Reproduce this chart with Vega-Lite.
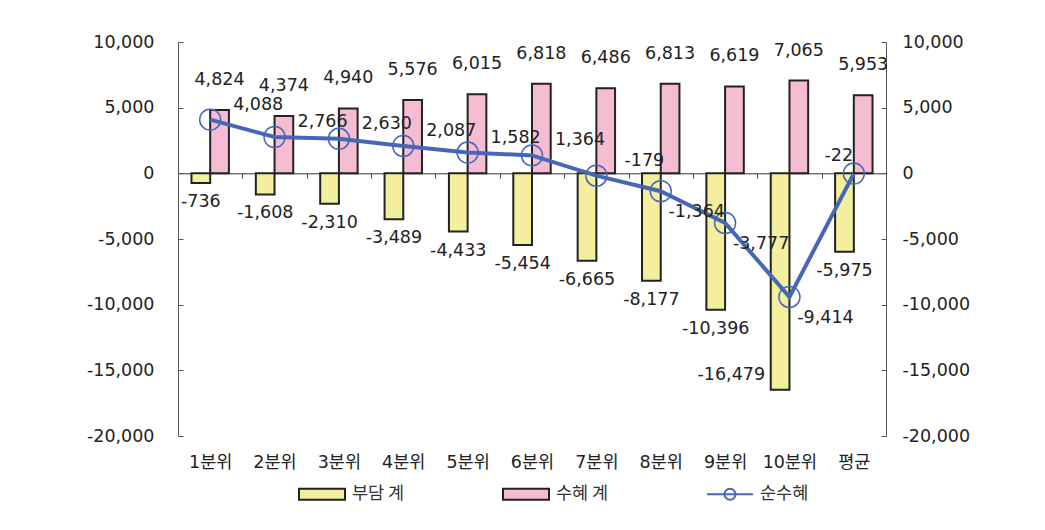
{
  "$schema": "https://vega.github.io/schema/vega-lite/v6.json",
  "autosize": {"type": "none"},
  "width": 708,
  "height": 394,
  "padding": {"left": 178, "top": 42, "right": 159, "bottom": 94},
  "background": "white",
  "config": {
    "view": {"stroke": null},
    "locale": {"number": {"decimal": ".", "thousands": ",", "grouping": [3], "currency": ["", ""], "minus": "-"}},
    "font": "DejaVu Sans, Noto Sans CJK KR, sans-serif",
    "text": {"font": "DejaVu Sans, Noto Sans CJK KR, sans-serif", "fontSize": 17.5, "color": "#222"}
  },
  "datasets": {
    "bars": [
      {"cat": "1분위", "series": "부담 계", "value": -736},
      {"cat": "1분위", "series": "수혜 계", "value": 4824},
      {"cat": "2분위", "series": "부담 계", "value": -1608},
      {"cat": "2분위", "series": "수혜 계", "value": 4374},
      {"cat": "3분위", "series": "부담 계", "value": -2310},
      {"cat": "3분위", "series": "수혜 계", "value": 4940},
      {"cat": "4분위", "series": "부담 계", "value": -3489},
      {"cat": "4분위", "series": "수혜 계", "value": 5576},
      {"cat": "5분위", "series": "부담 계", "value": -4433},
      {"cat": "5분위", "series": "수혜 계", "value": 6015},
      {"cat": "6분위", "series": "부담 계", "value": -5454},
      {"cat": "6분위", "series": "수혜 계", "value": 6818},
      {"cat": "7분위", "series": "부담 계", "value": -6665},
      {"cat": "7분위", "series": "수혜 계", "value": 6486},
      {"cat": "8분위", "series": "부담 계", "value": -8177},
      {"cat": "8분위", "series": "수혜 계", "value": 6813},
      {"cat": "9분위", "series": "부담 계", "value": -10396},
      {"cat": "9분위", "series": "수혜 계", "value": 6619},
      {"cat": "10분위", "series": "부담 계", "value": -16479},
      {"cat": "10분위", "series": "수혜 계", "value": 7065},
      {"cat": "평균", "series": "부담 계", "value": -5975},
      {"cat": "평균", "series": "수혜 계", "value": 5953}
    ],
    "net": [
      {"cat": "1분위", "net": 4088},
      {"cat": "2분위", "net": 2766},
      {"cat": "3분위", "net": 2630},
      {"cat": "4분위", "net": 2087},
      {"cat": "5분위", "net": 1582},
      {"cat": "6분위", "net": 1364},
      {"cat": "7분위", "net": -179},
      {"cat": "8분위", "net": -1364},
      {"cat": "9분위", "net": -3777},
      {"cat": "10분위", "net": -9414},
      {"cat": "평균", "net": -22}
    ]
  },
  "resolve": {"axis": {"y": "independent"}},
  "layer": [
    {
      "layer": [
        {
          "data": {"name": "bars"},
          "mark": {"type": "bar", "stroke": "#222", "strokeWidth": 2},
          "encoding": {
            "x": {
              "field": "cat", "type": "nominal", "sort": null,
              "scale": {"paddingInner": 0, "paddingOuter": 0},
              "axis": {
                "title": null, "orient": "bottom", "offset": -262.7,
                "domainColor": "#333", "domainWidth": 1,
                "ticks": true, "tickBand": "extent", "tickSize": 5, "tickColor": "#555",
                "labelPadding": 275, "labelAngle": 0,
                "labelFont": "DejaVu Sans, Noto Sans CJK KR, sans-serif",
                "labelFontSize": 17.5, "labelColor": "#222"
              }
            },
            "xOffset": {
              "field": "series", "type": "nominal",
              "scale": {"domain": ["부담 계", "수혜 계"], "paddingInner": 0, "paddingOuter": 0.72}
            },
            "y": {
              "field": "value", "type": "quantitative",
              "scale": {"domain": [-20000, 10000], "nice": false, "zero": false},
              "axis": {
                "title": null, "orient": "left", "grid": false,
                "values": [-20000, -15000, -10000, -5000, 0, 5000, 10000],
                "labelExpr": "format(datum.value, ',')",
                "domainColor": "#555", "tickColor": "#555",
                "tickSize": -5, "labelPadding": 29,
                "labelFont": "DejaVu Sans", "labelFontSize": 17.5, "labelColor": "#222"
              }
            },
            "color": {
              "field": "series", "type": "nominal",
              "scale": {"domain": ["부담 계", "수혜 계"], "range": ["#F3EF9F", "#F6BCD4"]},
              "legend": null
            }
          }
        },
        {
          "data": {"name": "bars"},
          "transform": [{"filter": "datum.series === '수혜 계'"}],
          "mark": {"type": "text", "baseline": "bottom", "dy": -21},
          "encoding": {
            "x": {"field": "cat", "type": "nominal", "sort": null},
            "xOffset": {"field": "series", "type": "nominal"},
            "y": {"field": "value", "type": "quantitative"},
            "text": {"field": "value", "type": "quantitative", "format": ","}
          }
        },
        {
          "data": {"name": "bars"},
          "transform": [{"filter": "datum.series === '부담 계' && datum.cat !== '10분위'"}],
          "mark": {"type": "text", "baseline": "top", "dy": 10},
          "encoding": {
            "x": {"field": "cat", "type": "nominal", "sort": null},
            "xOffset": {"field": "series", "type": "nominal"},
            "y": {"field": "value", "type": "quantitative"},
            "text": {"field": "value", "type": "quantitative", "format": ","}
          }
        },
        {
          "data": {"name": "bars"},
          "transform": [{"filter": "datum.series === '부담 계' && datum.cat === '10분위'"}],
          "mark": {"type": "text", "align": "right", "baseline": "middle", "dx": -15, "dy": -15},
          "encoding": {
            "x": {"field": "cat", "type": "nominal", "sort": null},
            "xOffset": {"field": "series", "type": "nominal"},
            "y": {"field": "value", "type": "quantitative"},
            "text": {"field": "value", "type": "quantitative", "format": ","}
          }
        },
        {
          "data": {"name": "net"},
          "mark": {"type": "line", "strokeWidth": 4, "color": "#4767B6"},
          "encoding": {
            "x": {"field": "cat", "type": "nominal", "sort": null},
            "y": {"field": "net", "type": "quantitative"}
          }
        },
        {
          "data": {"name": "net"},
          "mark": {"type": "point", "shape": "circle", "filled": false, "size": 441, "strokeWidth": 1.5, "opacity": 1, "color": "#4767B6"},
          "encoding": {
            "x": {"field": "cat", "type": "nominal", "sort": null},
            "y": {"field": "net", "type": "quantitative"}
          }
        },
        {
          "data": {"name": "net"},
          "transform": [{"filter": {"field": "cat", "oneOf": ["1분위", "2분위", "3분위", "4분위", "5분위", "6분위", "7분위"]}}],
          "mark": {"type": "text", "baseline": "middle", "dx": 48, "dy": -15},
          "encoding": {
            "x": {"field": "cat", "type": "nominal", "sort": null},
            "y": {"field": "net", "type": "quantitative"},
            "text": {"field": "net", "type": "quantitative", "format": ","}
          }
        },
        {
          "data": {"name": "net"},
          "transform": [{"filter": {"field": "cat", "oneOf": ["8분위", "9분위", "10분위"]}}],
          "mark": {"type": "text", "baseline": "middle", "dx": 36, "dy": 21},
          "encoding": {
            "x": {"field": "cat", "type": "nominal", "sort": null},
            "y": {"field": "net", "type": "quantitative"},
            "text": {"field": "net", "type": "quantitative", "format": ","}
          }
        },
        {
          "data": {"name": "net"},
          "transform": [{"filter": {"field": "cat", "equal": "평균"}}],
          "mark": {"type": "text", "baseline": "middle", "dx": -15, "dy": -18},
          "encoding": {
            "x": {"field": "cat", "type": "nominal", "sort": null},
            "y": {"field": "net", "type": "quantitative"},
            "text": {"field": "net", "type": "quantitative", "format": ","}
          }
        },
        {
          "data": {"name": "bars"},
          "transform": [{"filter": "datum.value > 1e9"}],
          "mark": {"type": "point", "filled": true},
          "encoding": {
            "x": {"field": "cat", "type": "nominal", "sort": null},
            "y": {"field": "value", "type": "quantitative"},
            "shape": {
              "field": "series", "type": "nominal",
              "scale": {
                "domain": ["부담 계", "수혜 계", "순수혜"],
                "range": [
                  "M-1,-0.24H1V0.24H-1Z",
                  "M-1,-0.24H1V0.24H-1Z",
                  "M-1,0H1M0.24,0A0.24,0.24,0,1,1,-0.24,0A0.24,0.24,0,1,1,0.24,0"
                ]
              },
              "legend": {
                "title": null, "orient": "none", "legendX": 120, "legendY": 428,
                "direction": "horizontal", "columns": 3, "gridAlign": "all",
                "columnPadding": 94, "symbolSize": 2116, "labelOffset": 6,
                "symbolOpacity": 1,
                "labelFont": "Noto Sans CJK KR", "labelFontSize": 17.5, "labelColor": "#333"
              }
            },
            "fill": {
              "field": "series", "type": "nominal",
              "scale": {
                "domain": ["부담 계", "수혜 계", "순수혜"],
                "range": ["#F3EF9F", "#F6BCD4", "transparent"]
              }
            },
            "stroke": {
              "field": "series", "type": "nominal",
              "scale": {
                "domain": ["부담 계", "수혜 계", "순수혜"],
                "range": ["#222222", "#222222", "#4767B6"]
              }
            },
            "strokeWidth": {
              "field": "series", "type": "ordinal",
              "scale": {
                "domain": ["부담 계", "수혜 계", "순수혜"],
                "range": [2, 2, 3.5]
              }
            }
          }
        }
      ]
    },
    {
      "data": {"name": "net"},
      "mark": {"type": "point", "opacity": 0},
      "encoding": {
        "x": {"field": "cat", "type": "nominal", "sort": null},
        "y": {
          "field": "net", "type": "quantitative",
          "axis": {
            "title": null, "orient": "right", "grid": false,
            "values": [-20000, -15000, -10000, -5000, 0, 5000, 10000],
            "labelExpr": "format(datum.value, ',')",
            "domainColor": "#555", "tickColor": "#555",
            "tickSize": -5, "labelPadding": 21,
            "labelFont": "DejaVu Sans", "labelFontSize": 17.5, "labelColor": "#222"
          }
        }
      }
    }
  ]
}
